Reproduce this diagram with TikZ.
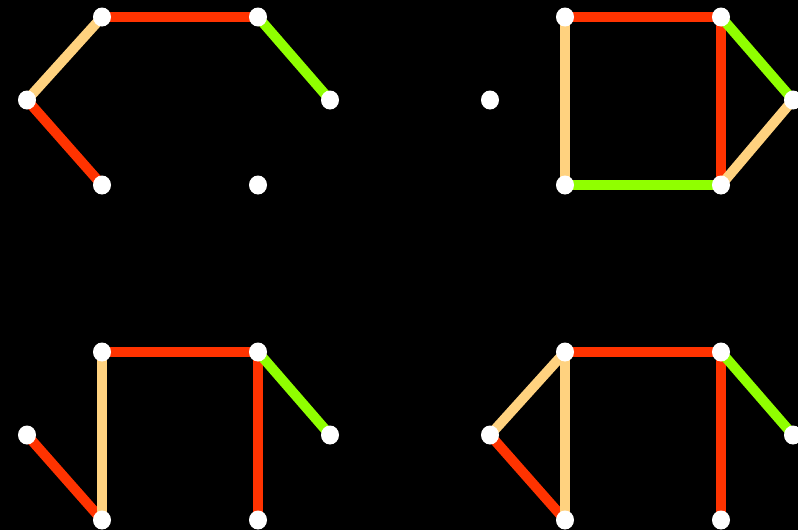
\documentclass[tikz,border=0pt]{standalone}
\usepackage{tikz}
\usetikzlibrary{shapes.geometric, backgrounds}
\definecolor{EdgeRed}{HTML}{FF3300}
\definecolor{EdgeSand}{HTML}{FFD27F}
\definecolor{EdgeLime}{HTML}{90FF00}

\tikzset{
  vertex/.style={ellipse,fill=white,draw=none,inner sep=0pt,
                 minimum width=18pt,minimum height=19pt},
  redge/.style={draw=EdgeRed,line width=10pt},
  sedge/.style={draw=EdgeSand,line width=10pt},
  ledge/.style={draw=EdgeLime,line width=10pt}
}

\begin{document}
\begin{tikzpicture}[x=1pt,y=-1pt]
\useasboundingbox (0,0) rectangle (798,530);
% four copies of the same six vertices
\foreach \g/\dx/\dy in {A/0/0,B/463/0,C/0/335,D/463/335}{
  \node[vertex] (\g1) at ({102+\dx},{17+\dy}) {};
  \node[vertex] (\g2) at ({258+\dx},{17+\dy}) {};
  \node[vertex] (\g3) at ({27+\dx},{100+\dy}) {};
  \node[vertex] (\g4) at ({330+\dx},{100+\dy}) {};
  \node[vertex] (\g5) at ({102+\dx},{185+\dy}) {};
  \node[vertex] (\g6) at ({258+\dx},{185+\dy}) {};
}
\begin{pgfonlayer}{background}
\fill[black] (0,0) rectangle (798,530);
% top left
\draw[sedge] (A3.center) -- (A1.center);
\draw[redge] (A1.center) -- (A2.center);
\draw[ledge] (A2.center) -- (A4.center);
\draw[redge] (A3.center) -- (A5.center);
% top right
\draw[redge] (B1.center) -- (B2.center);
\draw[sedge] (B1.center) -- (B5.center);
\draw[ledge] (B5.center) -- (B6.center);
\draw[redge] (B2.center) -- (B6.center);
\draw[ledge] (B2.center) -- (B4.center);
\draw[sedge] (B6.center) -- (B4.center);
% bottom left
\draw[redge] (C3.center) -- (C5.center);
\draw[sedge] (C1.center) -- (C5.center);
\draw[redge] (C1.center) -- (C2.center);
\draw[redge] (C2.center) -- (C6.center);
\draw[ledge] (C2.center) -- (C4.center);
% bottom right
\draw[sedge] (D3.center) -- (D1.center);
\draw[redge] (D3.center) -- (D5.center);
\draw[sedge] (D1.center) -- (D5.center);
\draw[redge] (D1.center) -- (D2.center);
\draw[redge] (D2.center) -- (D6.center);
\draw[ledge] (D2.center) -- (D4.center);
\end{pgfonlayer}
\end{tikzpicture}
\end{document}
